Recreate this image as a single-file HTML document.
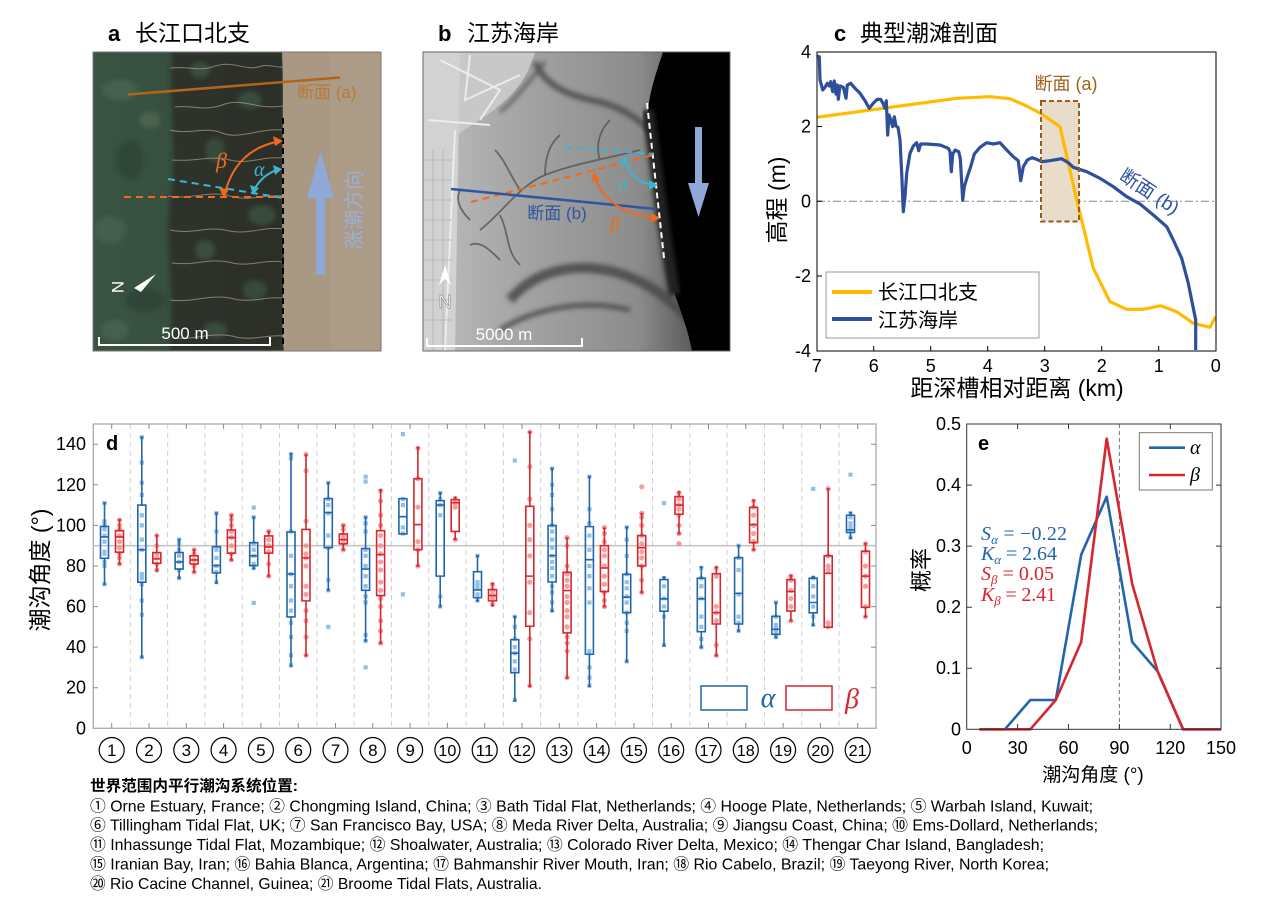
<!DOCTYPE html>
<html><head><meta charset="utf-8"><style>
html,body{margin:0;padding:0;background:#fff;}
svg{display:block;}
.cj{font-family:"Liberation Sans","Noto Sans CJK SC",sans-serif;}
.sn{font-family:"Liberation Sans",sans-serif;}
.sf{font-family:"Liberation Serif",serif;font-style:italic;}
</style></head><body>
<svg width="1269" height="901" viewBox="0 0 1269 901" xmlns="http://www.w3.org/2000/svg">
<defs>
<filter id="bl" x="-20%" y="-20%" width="140%" height="140%"><feGaussianBlur stdDeviation="2.5"/></filter>
<linearGradient id="gb" x1="0" y1="0" x2="1" y2="0">
<stop offset="0" stop-color="#bdbdbd"/><stop offset="0.35" stop-color="#a2a2a2"/><stop offset="0.7" stop-color="#8c8c8c"/><stop offset="1" stop-color="#3a3a3a"/></linearGradient>
<linearGradient id="ga" x1="0" y1="0" x2="1" y2="0">
<stop offset="0" stop-color="#3a5443"/><stop offset="0.4" stop-color="#354e3e"/><stop offset="1" stop-color="#2c362e"/></linearGradient>
<clipPath id="ca"><rect x="93" y="52" width="288" height="299"/></clipPath>
<clipPath id="cb"><rect x="423" y="52" width="307" height="299"/></clipPath>
</defs>
<rect width="1269" height="901" fill="#fff"/>

<!-- ===== Panel a ===== -->
<text x="108" y="41" class="sn" font-size="22" font-weight="bold">a</text>
<text x="135" y="41" class="cj" font-size="23">长江口北支</text>
<g clip-path="url(#ca)">
<rect x="93" y="52" width="288" height="299" fill="url(#ga)"/>
<g filter="url(#bl)" opacity="0.6">
<ellipse cx="120" cy="90" rx="18" ry="10" fill="#4e6a56"/>
<ellipse cx="130" cy="160" rx="14" ry="20" fill="#2a4032"/>
<ellipse cx="110" cy="230" rx="16" ry="14" fill="#4b6853"/>
<ellipse cx="145" cy="300" rx="20" ry="12" fill="#2a3e31"/>
<ellipse cx="150" cy="120" rx="10" ry="8" fill="#5a6e5a"/>
<ellipse cx="115" cy="330" rx="14" ry="10" fill="#4d6a55"/>
</g>
<path d="M172 52 C168 100 178 150 170 200 C165 250 175 300 170 351 L283 351 L283 52 Z" fill="#2a2622" opacity="0.7" filter="url(#bl)"/>
<g filter="url(#bl)" opacity="0.6">
<ellipse cx="200" cy="70" rx="10" ry="8" fill="#44604c"/>
<ellipse cx="250" cy="100" rx="12" ry="9" fill="#425e4a"/>
<ellipse cx="215" cy="150" rx="10" ry="12" fill="#405c48"/>
<ellipse cx="262" cy="215" rx="14" ry="10" fill="#425e4a"/>
<ellipse cx="205" cy="250" rx="10" ry="10" fill="#44604c"/>
<ellipse cx="255" cy="290" rx="12" ry="10" fill="#405c48"/>
<ellipse cx="215" cy="330" rx="12" ry="8" fill="#425e4a"/>
</g>
<path d="M282 52 C285 120 279 200 284 260 C283 300 281 330 284 351 L381 351 L381 52 Z" fill="#a99984"/>
<rect x="330" y="52" width="51" height="299" fill="#b09d87" opacity="0.5"/>
<g fill="none" stroke="#c4b497" stroke-width="1" opacity="0.6">
<path d="M170 68 C190 66 200 72 215 66 C235 60 245 72 262 66 C270 64 276 68 283 67"/>
<path d="M175 107 C195 105 205 112 225 104 C245 98 255 110 283 106"/>
<path d="M170 130 C190 135 205 126 222 133 C240 140 258 128 283 130"/>
<path d="M172 160 C195 162 210 155 230 160 C248 165 262 156 283 158"/>
<path d="M168 196 C190 200 210 190 230 196 C250 202 262 194 283 196"/>
<path d="M170 230 C192 235 205 226 225 230 C248 236 262 226 283 229"/>
<path d="M172 263 C195 266 208 258 228 262 C250 268 262 259 283 262"/>
<path d="M170 300 C192 303 210 294 230 298 C250 304 265 296 283 298"/>
<path d="M175 338 C195 340 210 332 232 336 C252 342 268 334 283 336"/>
</g>
</g>
<rect x="93" y="52" width="288" height="299" fill="none" stroke="#777" stroke-width="1"/>
<line x1="128" y1="94.5" x2="340" y2="77.5" stroke="#b3641b" stroke-width="2.5"/>
<text x="297" y="98" class="cj" font-size="17" fill="#b87a38">断面 (a)</text>
<line x1="283" y1="118" x2="283" y2="347" stroke="#000" stroke-width="2" stroke-dasharray="6,4"/>
<line x1="124" y1="197" x2="283" y2="197" stroke="#f06a1e" stroke-width="2" stroke-dasharray="7,5"/>
<line x1="168" y1="179" x2="283" y2="198" stroke="#3db4d2" stroke-width="2" stroke-dasharray="7,5"/>
<path d="M225 193 Q236 150 278 141.5" fill="none" stroke="#f06a1e" stroke-width="2"/>
<polygon points="283,141 273,136 275,146" fill="#f06a1e"/>
<polygon points="224,198 219,188 229,189" fill="#f06a1e"/>
<path d="M254 190 Q262 175 277 170" fill="none" stroke="#3db4d2" stroke-width="2"/>
<polygon points="282,169 273,165 275,175" fill="#3db4d2"/>
<polygon points="253,195 250,185 259,188" fill="#3db4d2"/>
<text x="216" y="168" class="sf" font-size="22" fill="#f06a1e">β</text>
<text x="254" y="176" class="sf" font-size="20" fill="#3db4d2">α</text>
<rect x="316" y="198" width="9" height="77" fill="#8fa8d8"/>
<polygon points="307,198 334,198 320.5,151" fill="#8fa8d8"/>
<text transform="translate(361,210) rotate(-90)" text-anchor="middle" class="cj" font-size="20" fill="#9ab0d8">涨潮方向</text>
<polygon points="134,288 156,274 141,292" fill="#fff"/>
<text transform="translate(112,287) rotate(90)" class="sn" font-size="17" fill="#fff" text-anchor="middle">N</text>
<path d="M99 337 V345 H270 V337" fill="none" stroke="#fff" stroke-width="2"/>
<text x="185" y="339" text-anchor="middle" class="sn" font-size="17" fill="#fff">500 m</text>

<!-- ===== Panel b ===== -->
<text x="438" y="41" class="sn" font-size="22" font-weight="bold">b</text>
<text x="467" y="41" class="cj" font-size="23">江苏海岸</text>
<g clip-path="url(#cb)">
<rect x="423" y="52" width="307" height="299" fill="url(#gb)"/>
<path d="M423 52 H535 C530 70 520 90 500 105 C485 118 470 125 458 135 L455 351 H423 Z" fill="#c8c8c8"/>
<path d="M423 52 H460 L455 351 H423 Z" fill="#d2d2d2"/>
<g stroke="#ececec" stroke-width="2" fill="none">
<path d="M440 60 L500 90 L480 120"/><path d="M470 55 L465 100 L520 75"/><path d="M428 120 L490 125"/>
<path d="M455 130 L445 351"/>
</g>
<g stroke="#b8b8b8" stroke-width="1" fill="none">
<path d="M425 160 H452 M425 180 H452 M425 200 H452 M425 220 H452 M425 240 H452 M425 260 H452 M425 280 H452 M425 300 H452 M425 320 H452"/>
<path d="M433 150 V351 M443 150 V351"/>
</g>
<g fill="none" stroke="#4a4a4a" filter="url(#bl)" opacity="0.85">
<path d="M535 62 C545 85 565 95 600 102 C630 110 645 125 660 140" stroke-width="6"/>
<path d="M545 62 C530 80 515 100 500 112" stroke-width="3"/>
<path d="M510 300 C535 270 575 262 615 272 C650 282 670 300 690 320" stroke-width="10"/>
<path d="M500 330 C540 305 590 300 630 310" stroke-width="5"/>
</g>
<g fill="none" stroke="#555" stroke-width="1.8" opacity="0.8">
<path d="M480 230 C500 215 520 185 545 175 C570 165 600 160 640 150"/>
<path d="M520 190 C510 175 505 160 495 150"/><path d="M545 175 C545 160 548 145 560 135"/>
<path d="M500 260 C490 250 480 240 470 245"/><path d="M470 220 C460 210 455 200 460 190"/>
<path d="M600 160 C595 145 600 130 610 120"/><path d="M500 215 C510 235 505 250 520 265"/>
</g>
<path d="M663 52 H730 V351 H692 C688 330 682 315 675 295 C670 270 668 250 662 215 C658 180 652 140 648 110 C650 90 657 70 663 52 Z" fill="#000"/>
<path d="M648 110 C652 140 658 180 662 215 C668 250 670 270 675 295" fill="none" stroke="#222" stroke-width="12" filter="url(#bl)"/>
</g>
<rect x="423" y="52" width="307" height="299" fill="none" stroke="#666" stroke-width="1"/>
<line x1="647" y1="103" x2="664" y2="258" stroke="#fff" stroke-width="2" stroke-dasharray="6,4"/>
<line x1="565" y1="147" x2="653" y2="154" stroke="#3db4d2" stroke-width="2" stroke-dasharray="7,5"/>
<line x1="471" y1="202" x2="653" y2="155" stroke="#f06a1e" stroke-width="2" stroke-dasharray="7,5"/>
<line x1="451" y1="189" x2="656" y2="209" stroke="#2f54a0" stroke-width="2.5"/>
<text x="557" y="219" text-anchor="middle" class="cj" font-size="17" fill="#2f54a0">断面 (b)</text>
<path d="M625 161 Q630 180 652 185" fill="none" stroke="#3db4d2" stroke-width="2"/>
<polygon points="624,155 620,165 629,164" fill="#3db4d2"/>
<polygon points="658,185 649,180 649,190" fill="#3db4d2"/>
<path d="M595 178 Q608 212 654 218" fill="none" stroke="#f06a1e" stroke-width="2"/>
<polygon points="594,172 591,182 600,180" fill="#f06a1e"/>
<polygon points="660,218 651,213 651,223" fill="#f06a1e"/>
<text x="618" y="190" class="sf" font-size="20" fill="#3db4d2">α</text>
<text x="610" y="230" class="sf" font-size="20" fill="#f06a1e">β</text>
<rect x="695" y="127" width="7" height="57" fill="#8fa8d8"/>
<polygon points="688,183 709,183 698.5,217" fill="#8fa8d8"/>
<polygon points="445,265 439,285 445,279 451,285" fill="#fff"/>
<text x="445" y="308" text-anchor="middle" class="sn" font-size="18" fill="#fff" stroke="#555" stroke-width="0.4">N</text>
<path d="M427 338 V346 H582 V338" fill="none" stroke="#fff" stroke-width="2"/>
<text x="504" y="340" text-anchor="middle" class="sn" font-size="17" fill="#fff">5000 m</text>

<!-- ===== Panel c ===== -->
<text x="834" y="41" class="sn" font-size="22" font-weight="bold">c</text>
<text x="860" y="41" class="cj" font-size="23">典型潮滩剖面</text>
<line x1="817" y1="201.3" x2="1216" y2="201.3" stroke="#888" stroke-width="1" stroke-dasharray="8,3,2,3"/>
<rect x="1041" y="101" width="38" height="120.5" fill="#e8dccb"/>
<polyline fill="none" stroke="#ffbb00" stroke-width="3.2" stroke-linejoin="round" points="816.7,117.3 956.7,98.3 990,96.7 1010,98.7 1026.7,106 1041.7,114 1060,126.7 1076.7,200 1083.3,226.7 1093.3,268.3 1110,301.7 1126.7,309.3 1143.3,309.3 1160.7,305.7 1176.7,311.7 1193.3,323.3 1210,327.3 1215.7,316.7"/>
<polyline fill="none" stroke="#2f4f9a" stroke-width="3.2" stroke-linejoin="round" points="817.3,56 819.3,56.7 820,80 822.7,90 825,87.3 827.3,83.3 829.3,86 830.7,81.7 832.7,91.7 834.3,81 836,94 837.3,85 838.3,99.3 840,86 843.3,87.3 846,98.3 847.3,85 850.7,83.3 855,88.3 860,93.3 865,100.7 869.3,108.3 873.3,103.3 877.3,99.3 880.7,99.3 883.3,104 885,108.3 886.3,100.7 887.7,135 889,115 891,120.7 892.7,126.7 894.3,116.7 896,126 898,127.3 900,140 901.7,173.3 903.3,211.7 905,196.7 906.7,173.3 910,153.3 913.3,146 916.7,142.7 918.7,150.7 920.7,144 926.7,144 940,145 948.3,148.3 950,151.7 951.3,171.7 952.7,154 955.3,150 958.7,151.7 960.3,158.3 962.7,200 964.3,186.7 967.3,176.7 970.7,166.7 974.3,154 980,147.3 986.7,142.7 993.3,144 1000,142.7 1006.7,150 1013.3,156.7 1018.3,160.7 1020.7,180.7 1023.3,166.7 1027.3,160 1032,157.7 1036.7,159.3 1041.7,161.7 1050,160.7 1061.7,158.7 1068.3,162.7 1073.3,167.3 1086.7,171.7 1100,178.3 1113.3,186.7 1126.7,196.7 1140,204 1153.3,215 1166.7,226.7 1173.3,240 1181.7,258.3 1188.3,283.3 1194,311.7 1195.7,320 1195.7,350"/>
<rect x="1041" y="101" width="38" height="120.5" fill="none" stroke="#9a5a1a" stroke-width="2" stroke-dasharray="5,3"/>
<text x="1066" y="90" text-anchor="middle" class="cj" font-size="18" fill="#a0601a">断面 (a)</text>
<text transform="translate(1146,197) rotate(33)" text-anchor="middle" class="cj" font-size="19" fill="#2f54a0">断面 (b)</text>
<rect x="817" y="52" width="399" height="299" fill="none" stroke="#000" stroke-width="1"/>
<g stroke="#000" stroke-width="1">
<path d="M817 52h5M817 126.5h5M817 201.3h5M817 276h5M817 351h5"/>
<path d="M873.7 351v-5M930.7 351v-5M987.7 351v-5M1044.7 351v-5M1101.7 351v-5M1158.7 351v-5"/>
</g>
<g class="sn" font-size="18" text-anchor="end">
<text x="811" y="58">4</text><text x="811" y="132.5">2</text><text x="811" y="207.3">0</text><text x="811" y="282">-2</text><text x="811" y="357">-4</text>
</g>
<g class="sn" font-size="18" text-anchor="middle">
<text x="816.7" y="372">7</text><text x="873.7" y="372">6</text><text x="930.7" y="372">5</text><text x="987.7" y="372">4</text><text x="1044.7" y="372">3</text><text x="1101.7" y="372">2</text><text x="1158.7" y="372">1</text><text x="1215.7" y="372">0</text>
</g>
<text x="1017" y="396" text-anchor="middle" class="cj" font-size="23">距深槽相对距离 (km)</text>
<text transform="translate(785,200) rotate(-90)" text-anchor="middle" class="cj" font-size="23">高程 (m)</text>
<rect x="826" y="272" width="213" height="66" fill="#fff" stroke="#999" stroke-width="1"/>
<line x1="832" y1="292" x2="872" y2="292" stroke="#ffbb00" stroke-width="4"/>
<line x1="832" y1="319" x2="872" y2="319" stroke="#2f4f9a" stroke-width="4"/>
<text x="878" y="299" class="cj" font-size="20">长江口北支</text>
<text x="878" y="327" class="cj" font-size="20">江苏海岸</text>

<!-- ===== Panel d ===== -->
<g stroke="#cfcfcf" stroke-width="1" stroke-dasharray="5,4">
<path d="M130.35 424V728M167.65 424V728M204.95 424V728M242.25 424V728M279.55 424V728M316.85 424V728M354.15 424V728M391.45 424V728M428.75 424V728M466.05 424V728M503.35 424V728M540.65 424V728M577.95 424V728M615.25 424V728M652.55 424V728M689.85 424V728M727.15 424V728M764.45 424V728M801.75 424V728M839.05 424V728"/>
</g>
<line x1="93" y1="545.7" x2="876" y2="545.7" stroke="#c6c6c6" stroke-width="1.6"/>
<g transform="translate(0,728.3) scale(1,-2.029)">
<path vector-effect="non-scaling-stroke" fill="none" stroke="#6fa8dc" stroke-opacity="0.75" stroke-width="4.2" stroke-linecap="square" d="M104.5 71h.01M104.5 80h.01M104.5 82h.01M104.5 86h.01M104.5 87h.01M104.5 92h.01M104.5 95h.01M104.5 98h.01M104.5 100h.01M104.5 102h.01M104.5 111h.01M141.8 35h.01M141.8 56h.01M141.8 63h.01M141.8 71h.01M141.8 74h.01M141.8 76h.01M141.8 88h.01M141.8 93h.01M141.8 100h.01M141.8 105h.01M141.8 115h.01M141.8 121h.01M141.8 131h.01M141.8 143.4h.01M179.1 74h.01M179.1 78h.01M179.1 82h.01M179.1 85h.01M179.1 88h.01M179.1 91h.01M179.1 93h.01M216.4 72h.01M216.4 77h.01M216.4 80h.01M216.4 84h.01M216.4 88h.01M216.4 97h.01M216.4 106h.01M253.7 79h.01M253.7 81h.01M253.7 85h.01M253.7 88h.01M253.7 91h.01M253.7 104h.01M253.7 108.8h.01M253.7 61.8h.01M291 31h.01M291 36h.01M291 45h.01M291 52h.01M291 58h.01M291 63h.01M291 70h.01M291 76h.01M291 85h.01M291 97h.01M291 133h.01M291 135h.01M328.3 68h.01M328.3 73h.01M328.3 89h.01M328.3 95h.01M328.3 106h.01M328.3 110h.01M328.3 113h.01M328.3 121h.01M328.3 50h.01M365.6 43h.01M365.6 46h.01M365.6 62h.01M365.6 65h.01M365.6 70h.01M365.6 75h.01M365.6 80h.01M365.6 85h.01M365.6 88h.01M365.6 97h.01M365.6 101h.01M365.6 104h.01M365.6 124h.01M365.6 121.6h.01M365.6 30h.01M402.9 96h.01M402.9 99h.01M402.9 110h.01M402.9 113h.01M402.9 145h.01M402.9 66h.01M440.2 60h.01M440.2 65h.01M440.2 105h.01M440.2 110h.01M440.2 113h.01M440.2 116h.01M477.5 63h.01M477.5 66h.01M477.5 69h.01M477.5 70h.01M477.5 72h.01M477.5 85h.01M514.8 14h.01M514.8 29h.01M514.8 33h.01M514.8 37h.01M514.8 40h.01M514.8 44h.01M514.8 50h.01M514.8 55h.01M514.8 132h.01M552.1 58h.01M552.1 62h.01M552.1 67h.01M552.1 70h.01M552.1 75h.01M552.1 79h.01M552.1 82h.01M552.1 85h.01M552.1 89h.01M552.1 93h.01M552.1 97h.01M552.1 100h.01M552.1 108h.01M552.1 115h.01M552.1 120h.01M552.1 128h.01M589.4 21h.01M589.4 25h.01M589.4 30h.01M589.4 37h.01M589.4 38h.01M589.4 62h.01M589.4 69h.01M589.4 75h.01M589.4 80h.01M589.4 88h.01M589.4 95h.01M589.4 101h.01M589.4 108h.01M589.4 124h.01M626.7 33h.01M626.7 48h.01M626.7 52h.01M626.7 57h.01M626.7 62h.01M626.7 65h.01M626.7 69h.01M626.7 72h.01M626.7 76h.01M626.7 85h.01M626.7 93h.01M626.7 99h.01M664 41h.01M664 55h.01M664 60h.01M664 64h.01M664 70h.01M664 74h.01M664 111h.01M701.3 40h.01M701.3 44h.01M701.3 50h.01M701.3 55h.01M701.3 64h.01M701.3 70h.01M701.3 74h.01M701.3 79h.01M738.6 48h.01M738.6 52h.01M738.6 55h.01M738.6 66h.01M738.6 78h.01M738.6 84h.01M738.6 90h.01M775.9 45h.01M775.9 47h.01M775.9 49h.01M775.9 51h.01M775.9 55h.01M775.9 62h.01M813.2 51h.01M813.2 55h.01M813.2 60h.01M813.2 65h.01M813.2 70h.01M813.2 74h.01M813.2 118h.01M850.5 94h.01M850.5 97h.01M850.5 99h.01M850.5 101h.01M850.5 104h.01M850.5 106h.01M850.5 125h.01"/>
<path vector-effect="non-scaling-stroke" fill="none" stroke="#f47c7c" stroke-opacity="0.75" stroke-width="5.2" stroke-linecap="round" d="M119.5 81h.01M119.5 84h.01M119.5 86h.01M119.5 89h.01M119.5 92h.01M119.5 95h.01M119.5 98h.01M119.5 100h.01M119.5 102.7h.01M156.8 78h.01M156.8 81h.01M156.8 84h.01M156.8 86h.01M156.8 90h.01M156.8 95h.01M194.1 77h.01M194.1 80h.01M194.1 83h.01M194.1 86h.01M194.1 88h.01M231.4 83h.01M231.4 86h.01M231.4 90h.01M231.4 94h.01M231.4 97h.01M231.4 100h.01M231.4 103h.01M231.4 105h.01M268.7 75h.01M268.7 81h.01M268.7 87h.01M268.7 90h.01M268.7 93h.01M268.7 97h.01M306 36h.01M306 45h.01M306 53h.01M306 58h.01M306 66h.01M306 70h.01M306 80h.01M306 84h.01M306 86h.01M306 90h.01M306 102h.01M306 127h.01M306 135h.01M343.3 88h.01M343.3 91h.01M343.3 93h.01M343.3 95h.01M343.3 98h.01M343.3 100h.01M380.6 42h.01M380.6 48h.01M380.6 53h.01M380.6 60h.01M380.6 64h.01M380.6 68h.01M380.6 72h.01M380.6 78h.01M380.6 82h.01M380.6 86h.01M380.6 90h.01M380.6 95h.01M380.6 100h.01M380.6 105h.01M380.6 112h.01M380.6 117h.01M417.9 80h.01M417.9 88h.01M417.9 92h.01M417.9 109h.01M417.9 123h.01M417.9 138h.01M455.2 93h.01M455.2 109h.01M455.2 111h.01M455.2 113h.01M492.5 61h.01M492.5 64h.01M492.5 66h.01M492.5 68h.01M492.5 71h.01M529.8 21h.01M529.8 44h.01M529.8 57h.01M529.8 72h.01M529.8 85h.01M529.8 93h.01M529.8 100h.01M529.8 113h.01M529.8 129h.01M529.8 146h.01M567.1 25h.01M567.1 38h.01M567.1 42h.01M567.1 45h.01M567.1 50h.01M567.1 55h.01M567.1 58h.01M567.1 62h.01M567.1 65h.01M567.1 70h.01M567.1 73h.01M567.1 76h.01M567.1 80h.01M567.1 90h.01M567.1 94h.01M604.4 60h.01M604.4 63h.01M604.4 67h.01M604.4 71h.01M604.4 75h.01M604.4 80h.01M604.4 85h.01M604.4 88h.01M604.4 92h.01M604.4 96h.01M604.4 99h.01M641.7 67h.01M641.7 73h.01M641.7 80h.01M641.7 84h.01M641.7 87h.01M641.7 91h.01M641.7 95h.01M641.7 100h.01M641.7 104h.01M641.7 106h.01M641.7 119h.01M679 91h.01M679 96h.01M679 100h.01M679 105h.01M679 108h.01M679 110h.01M679 113h.01M679 116h.01M716.3 36h.01M716.3 41h.01M716.3 53h.01M716.3 57h.01M716.3 60h.01M716.3 75h.01M716.3 79h.01M753.6 88h.01M753.6 92h.01M753.6 96h.01M753.6 100h.01M753.6 105h.01M753.6 109h.01M753.6 112h.01M790.9 53h.01M790.9 60h.01M790.9 64h.01M790.9 68h.01M790.9 73h.01M790.9 75h.01M828.2 50h.01M828.2 52h.01M828.2 78h.01M828.2 80h.01M828.2 85h.01M828.2 118h.01M865.5 55h.01M865.5 60h.01M865.5 70h.01M865.5 75h.01M865.5 80h.01M865.5 87h.01M865.5 91h.01"/>
<path vector-effect="non-scaling-stroke" fill="none" stroke="#2166ac" stroke-width="1.6" d="M100.5 83.8H108.5V99.5H100.5ZM104.5 71V83.8M104.5 99.5V111M100.5 94.3H108.5M103 71H106M103 111H106M137.8 72H145.8V110H137.8ZM141.8 35V72M141.8 110V143.4M137.8 88H145.8M140.3 35H143.3M140.3 143.4H143.3M175.1 78.5H183.1V86.6H175.1ZM179.1 74V78.5M179.1 86.6V93M175.1 82H183.1M177.6 74H180.6M177.6 93H180.6M212.4 76.6H220.4V89.5H212.4ZM216.4 71.6V76.6M216.4 89.5V106M212.4 80.2H220.4M214.9 71.6H217.9M214.9 106H217.9M249.7 80.2H257.7V91.5H249.7ZM253.7 78.7V80.2M253.7 91.5V104M249.7 85H257.7M252.2 78.7H255.2M252.2 104H255.2M287 54.9H295V96.8H287ZM291 30.7V54.9M291 96.8V135.4M287 76H295M289.5 30.7H292.5M289.5 135.4H292.5M324.3 89H332.3V113.2H324.3ZM328.3 68V89M328.3 113.2V121M324.3 106.3H332.3M326.8 68H329.8M326.8 121H329.8M361.6 68H369.6V88.6H361.6ZM365.6 43.2V68M365.6 88.6V104M361.6 78.5H369.6M364.1 43.2H367.1M364.1 104H367.1M398.9 95.8H406.9V113.2H398.9ZM398.9 104.3H406.9M436.2 75H444.2V112.2H436.2ZM440.2 60V75M440.2 112.2V116M436.2 110H444.2M438.7 60H441.7M438.7 116H441.7M473.5 64.4H481.5V77.2H473.5ZM477.5 62.8V64.4M477.5 77.2V85M473.5 68.2H481.5M476 62.8H479M476 85H479M510.8 27.4H518.8V43.7H510.8ZM514.8 13.5V27.4M514.8 43.7V55M510.8 37H518.8M513.3 13.5H516.3M513.3 55H516.3M548.1 72.1H556.1V99.9H548.1ZM552.1 57.7V72.1M552.1 99.9V128M548.1 85.1H556.1M550.6 57.7H553.6M550.6 128H553.6M585.4 36.5H593.4V99.4H585.4ZM589.4 20.7V36.5M589.4 99.4V124M585.4 83.1H593.4M587.9 20.7H590.9M587.9 124H590.9M622.7 57H630.7V75.9H622.7ZM626.7 32.9V57M626.7 75.9V99.2M622.7 64.6H630.7M625.2 32.9H628.2M625.2 99.2H628.2M660 57.7H668V73.3H660ZM664 40.7V57.7M664 73.3V74.4M660 63.8H668M662.5 40.7H665.5M662.5 74.4H665.5M697.3 47.6H705.3V74H697.3ZM701.3 39.8V47.6M701.3 74V79.4M697.3 63.8H705.3M699.8 39.8H702.8M699.8 79.4H702.8M734.6 51.4H742.6V84.1H734.6ZM738.6 48V51.4M738.6 84.1V90M734.6 66.5H742.6M737.1 48H740.1M737.1 90H740.1M771.9 46.3H779.9V55.2H771.9ZM775.9 44.7V46.3M775.9 55.2V62M771.9 48.8H779.9M774.4 44.7H777.4M774.4 62H777.4M809.2 56.9H817.2V74H809.2ZM813.2 50.8V56.9M813.2 74V74.8M809.2 62H817.2M811.7 50.8H814.7M811.7 74.8H814.7M846.5 96.5H854.5V105H846.5ZM850.5 93.7V96.5M850.5 105V106.3M846.5 97.8H854.5M849 93.7H852M849 106.3H852"/>
<path vector-effect="non-scaling-stroke" fill="none" stroke="#d7262e" stroke-width="1.6" d="M115.5 86.8H123.5V97.4H115.5ZM119.5 81V86.8M119.5 97.4V102.7M115.5 94.3H123.5M118 81H121M118 102.7H121M152.8 81.3H160.8V86.6H152.8ZM156.8 77.7V81.3M156.8 86.6V95M152.8 83.5H160.8M155.3 77.7H158.3M155.3 95H158.3M190.1 81H198.1V85H190.1ZM194.1 77V81M194.1 85V88M190.1 83H198.1M192.6 77H195.6M192.6 88H195.6M227.4 86.3H235.4V97.8H227.4ZM231.4 83V86.3M231.4 97.8V105M227.4 94H235.4M229.9 83H232.9M229.9 105H232.9M264.7 86.3H272.7V94.8H264.7ZM268.7 75V86.3M268.7 94.8V97M264.7 89.4H272.7M267.2 75H270.2M267.2 97H270.2M302 62.8H310V98H302ZM306 35.8V62.8M306 98V134.7M302 84H310M304.5 35.8H307.5M304.5 134.7H307.5M339.3 90.9H347.3V95.8H339.3ZM343.3 88V90.9M343.3 95.8V100M339.3 93H347.3M341.8 88H344.8M341.8 100H344.8M376.6 65.4H384.6V97.4H376.6ZM380.6 41.9V65.4M380.6 97.4V117.5M376.6 85.6H384.6M379.1 41.9H382.1M379.1 117.5H382.1M413.9 88H421.9V123H413.9ZM417.9 80V88M417.9 123V138.3M413.9 100.4H421.9M416.4 80H419.4M416.4 138.3H419.4M451.2 97H459.2V112.7H451.2ZM455.2 93.2V97M455.2 112.7V113.9M451.2 111.2H459.2M453.7 93.2H456.7M453.7 113.9H456.7M488.5 62.8H496.5V68.4H488.5ZM492.5 60.5V62.8M492.5 68.4V71.3M488.5 65.4H496.5M491 60.5H494M491 71.3H494M525.8 50.3H533.8V109.4H525.8ZM529.8 20.7V50.3M529.8 109.4V146M525.8 75H533.8M528.3 20.7H531.3M528.3 146H531.3M563.1 47H571.1V76.9H563.1ZM567.1 24.8V47M567.1 76.9V93.7M563.1 67.9H571.1M565.6 24.8H568.6M565.6 93.7H568.6M600.4 67.4H608.4V90H600.4ZM604.4 60V67.4M604.4 90V98.6M600.4 79H608.4M602.9 60H605.9M602.9 98.6H605.9M637.7 80H645.7V95H637.7ZM641.7 67V80M641.7 95V105.8M637.7 89H645.7M640.2 67H643.2M640.2 105.8H643.2M675 105.5H683V114.2H675ZM679 96V105.5M679 114.2V116.5M675 110H683M677.5 96H680.5M677.5 116.5H680.5M712.3 51.4H720.3V76.2H712.3ZM716.3 35.8V51.4M716.3 76.2V79.4M712.3 57H720.3M714.8 35.8H717.8M714.8 79.4H717.8M749.6 91.5H757.6V108.9H749.6ZM753.6 88V91.5M753.6 108.9V112.4M749.6 100.4H757.6M752.1 88H755.1M752.1 112.4H755.1M786.9 57.8H794.9V73.3H786.9ZM790.9 53V57.8M790.9 73.3V75.3M786.9 67.4H794.9M789.4 53H792.4M789.4 75.3H792.4M824.2 49.8H832.2V85H824.2ZM828.2 85V118M824.2 76.4H832.2M826.7 118H829.7M861.5 59.6H869.5V87.3H861.5ZM865.5 55V59.6M865.5 87.3V91M861.5 75H869.5M864 55H867M864 91H867"/>
</g>
<rect x="93.3" y="424" width="782.7" height="304.3" fill="none" stroke="#b0b0b0" stroke-width="1.4"/>
<g stroke="#8a8a8a" stroke-width="1">
<path d="M93 444.2h5M93 484.8h5M93 525.4h5M93 566h5M93 606.6h5M93 647.1h5M93 687.7h5"/>
<path d="M876 444.2h-5M876 484.8h-5M876 525.4h-5M876 566h-5M876 606.6h-5M876 647.1h-5M876 687.7h-5"/>
<path d="M111.7 728v-5M149 728v-5M186.3 728v-5M223.6 728v-5M260.9 728v-5M298.2 728v-5M335.5 728v-5M372.8 728v-5M410.1 728v-5M447.4 728v-5M484.7 728v-5M522 728v-5M559.3 728v-5M596.6 728v-5M633.9 728v-5M671.2 728v-5M708.5 728v-5M745.8 728v-5M783.1 728v-5M820.4 728v-5M857.7 728v-5"/>
<path d="M111.7 424v5M149 424v5M186.3 424v5M223.6 424v5M260.9 424v5M298.2 424v5M335.5 424v5M372.8 424v5M410.1 424v5M447.4 424v5M484.7 424v5M522 424v5M559.3 424v5M596.6 424v5M633.9 424v5M671.2 424v5M708.5 424v5M745.8 424v5M783.1 424v5M820.4 424v5M857.7 424v5"/>
</g>
<text x="106" y="450" class="sn" font-size="20" font-weight="bold">d</text>
<g class="sn" font-size="18" text-anchor="end">
<text x="86" y="734.3">0</text><text x="86" y="693.7">20</text><text x="86" y="653.1">40</text><text x="86" y="612.6">60</text><text x="86" y="572">80</text><text x="86" y="531.4">100</text><text x="86" y="490.8">120</text><text x="86" y="450.2">140</text>
</g>
<text transform="translate(48,570) rotate(-90)" text-anchor="middle" class="cj" font-size="23">潮沟角度 (°)</text>
<rect x="701" y="686" width="46" height="24" fill="#fff" stroke="#2166ac" stroke-width="1.5"/>
<text x="768" y="707" text-anchor="middle" class="sf" font-size="28" fill="#2166ac">α</text>
<rect x="786" y="686" width="46" height="24" fill="#fff" stroke="#d7262e" stroke-width="1.5"/>
<text x="852" y="708" text-anchor="middle" class="sf" font-size="28" fill="#d7262e">β</text>
<g fill="none" stroke="#000" stroke-width="1.2">
<circle cx="111.7" cy="750" r="12.5"/><circle cx="149" cy="750" r="12.5"/><circle cx="186.3" cy="750" r="12.5"/><circle cx="223.6" cy="750" r="12.5"/><circle cx="260.9" cy="750" r="12.5"/><circle cx="298.2" cy="750" r="12.5"/><circle cx="335.5" cy="750" r="12.5"/><circle cx="372.8" cy="750" r="12.5"/><circle cx="410.1" cy="750" r="12.5"/><circle cx="447.4" cy="750" r="12.5"/><circle cx="484.7" cy="750" r="12.5"/><circle cx="522" cy="750" r="12.5"/><circle cx="559.3" cy="750" r="12.5"/><circle cx="596.6" cy="750" r="12.5"/><circle cx="633.9" cy="750" r="12.5"/><circle cx="671.2" cy="750" r="12.5"/><circle cx="708.5" cy="750" r="12.5"/><circle cx="745.8" cy="750" r="12.5"/><circle cx="783.1" cy="750" r="12.5"/><circle cx="820.4" cy="750" r="12.5"/><circle cx="857.7" cy="750" r="12.5"/>
</g>
<g class="sn" font-size="17" text-anchor="middle">
<text x="111.7" y="756">1</text><text x="149" y="756">2</text><text x="186.3" y="756">3</text><text x="223.6" y="756">4</text><text x="260.9" y="756">5</text><text x="298.2" y="756">6</text><text x="335.5" y="756">7</text><text x="372.8" y="756">8</text><text x="410.1" y="756">9</text>
</g>
<g class="sn" font-size="16">
<text x="438.4" y="756" textLength="18" lengthAdjust="spacingAndGlyphs">10</text><text x="475.7" y="756" textLength="18" lengthAdjust="spacingAndGlyphs">11</text><text x="513" y="756" textLength="18" lengthAdjust="spacingAndGlyphs">12</text><text x="550.3" y="756" textLength="18" lengthAdjust="spacingAndGlyphs">13</text><text x="587.6" y="756" textLength="18" lengthAdjust="spacingAndGlyphs">14</text><text x="624.9" y="756" textLength="18" lengthAdjust="spacingAndGlyphs">15</text><text x="662.2" y="756" textLength="18" lengthAdjust="spacingAndGlyphs">16</text><text x="699.5" y="756" textLength="18" lengthAdjust="spacingAndGlyphs">17</text><text x="736.8" y="756" textLength="18" lengthAdjust="spacingAndGlyphs">18</text><text x="774.1" y="756" textLength="18" lengthAdjust="spacingAndGlyphs">19</text><text x="811.4" y="756" textLength="18" lengthAdjust="spacingAndGlyphs">20</text><text x="848.7" y="756" textLength="18" lengthAdjust="spacingAndGlyphs">21</text>
</g>

<!-- ===== Panel e ===== -->
<line x1="1119.4" y1="424" x2="1119.4" y2="729" stroke="#777" stroke-width="1" stroke-dasharray="4,3"/>
<polyline fill="none" stroke="#2166ac" stroke-width="2.6" stroke-linejoin="round" points="979.4,729.3 1004.9,729.3 1030.3,700 1055.8,700 1081.2,554.7 1106.7,496.7 1132.2,642 1157.6,671.3 1183.1,729.3 1221,729.3"/>
<polyline fill="none" stroke="#d7262e" stroke-width="2.6" stroke-linejoin="round" points="979.4,729.3 1030.3,729.3 1055.8,700 1081.2,642 1106.7,438.7 1132.2,584 1157.6,671.3 1183.1,729.3 1221,729.3"/>
<rect x="966.7" y="424" width="254.3" height="305.3" fill="none" stroke="#333" stroke-width="1"/>
<g stroke="#333" stroke-width="1">
<path d="M967 485.1h5M967 546.1h5M967 607.2h5M967 668.2h5M1221 485.1h-5M1221 546.1h-5M1221 607.2h-5M1221 668.2h-5"/>
<path d="M1017.6 729v-5M1068.5 729v-5M1119.4 729v-5M1170.3 729v-5M1017.6 424v5M1068.5 424v5M1170.3 424v5"/>
</g>
<text x="978" y="450" class="sn" font-size="20" font-weight="bold">e</text>
<g class="sn" font-size="18" text-anchor="end">
<text x="961" y="430">0.5</text><text x="961" y="491.1">0.4</text><text x="961" y="552.1">0.3</text><text x="961" y="613.2">0.2</text><text x="961" y="674.2">0.1</text><text x="961" y="735.3">0</text>
</g>
<g class="sn" font-size="18" text-anchor="middle">
<text x="966.7" y="754">0</text><text x="1017.6" y="754">30</text><text x="1068.5" y="754">60</text><text x="1119.4" y="754">90</text><text x="1170.3" y="754">120</text><text x="1221" y="754">150</text>
</g>
<text x="1093" y="781" text-anchor="middle" class="cj" font-size="19">潮沟角度 (°)</text>
<text transform="translate(929,570) rotate(-90)" text-anchor="middle" class="cj" font-size="22">概率</text>
<rect x="1139.3" y="432.7" width="73" height="57.3" fill="#fff" stroke="#777" stroke-width="1"/>
<line x1="1149" y1="447.7" x2="1185" y2="447.7" stroke="#2166ac" stroke-width="2.6"/>
<line x1="1149" y1="475" x2="1185" y2="475" stroke="#d7262e" stroke-width="2.6"/>
<text x="1190" y="454" class="sf" font-size="20">α</text>
<text x="1190" y="481" class="sf" font-size="20">β</text>
<g font-family="Liberation Serif, serif" font-size="20">
<text x="981" y="540" fill="#2166ac" textLength="86" lengthAdjust="spacing"><tspan font-style="italic">S</tspan><tspan font-style="italic" font-size="13" dy="4">α</tspan><tspan dy="-4"> = −0.22</tspan></text>
<text x="981" y="560" fill="#2166ac" textLength="76" lengthAdjust="spacing"><tspan font-style="italic">K</tspan><tspan font-style="italic" font-size="13" dy="4">α</tspan><tspan dy="-4"> = 2.64</tspan></text>
<text x="981" y="580" fill="#d7262e" textLength="73" lengthAdjust="spacing"><tspan font-style="italic">S</tspan><tspan font-style="italic" font-size="13" dy="4">β</tspan><tspan dy="-4"> = 0.05</tspan></text>
<text x="981" y="601" fill="#d7262e" textLength="75" lengthAdjust="spacing"><tspan font-style="italic">K</tspan><tspan font-style="italic" font-size="13" dy="4">β</tspan><tspan dy="-4"> = 2.41</tspan></text>
</g>

<!-- ===== Bottom text ===== -->
<text x="90" y="791" class="cj" font-size="15.5" font-weight="bold" textLength="208" lengthAdjust="spacingAndGlyphs">世界范围内平行潮沟系统位置:</text>
<g font-family="Liberation Sans, Noto Sans CJK SC, sans-serif" font-size="16">
<text x="90" y="811.5" textLength="1003" lengthAdjust="spacingAndGlyphs">① Orne Estuary, France; ② Chongming Island, China; ③ Bath Tidal Flat, Netherlands; ④ Hooge Plate, Netherlands; ⑤ Warbah Island, Kuwait;</text>
<text x="90" y="830.5" textLength="1008" lengthAdjust="spacingAndGlyphs">⑥ Tillingham Tidal Flat, UK; ⑦ San Francisco Bay, USA; ⑧ Meda River Delta, Australia; ⑨ Jiangsu Coast, China; ⑩ Ems-Dollard, Netherlands;</text>
<text x="90" y="850" textLength="954" lengthAdjust="spacingAndGlyphs">⑪ Inhassunge Tidal Flat, Mozambique; ⑫ Shoalwater, Australia; ⑬ Colorado River Delta, Mexico; ⑭ Thengar Char Island, Bangladesh;</text>
<text x="90" y="869.5" textLength="959" lengthAdjust="spacingAndGlyphs">⑮ Iranian Bay, Iran; ⑯ Bahia Blanca, Argentina; ⑰ Bahmanshir River Mouth, Iran; ⑱ Rio Cabelo, Brazil; ⑲ Taeyong River, North Korea;</text>
<text x="90" y="889" textLength="452" lengthAdjust="spacingAndGlyphs">⑳ Rio Cacine Channel, Guinea; ㉑ Broome Tidal Flats, Australia.</text>
</g>
</svg>
</body></html>
